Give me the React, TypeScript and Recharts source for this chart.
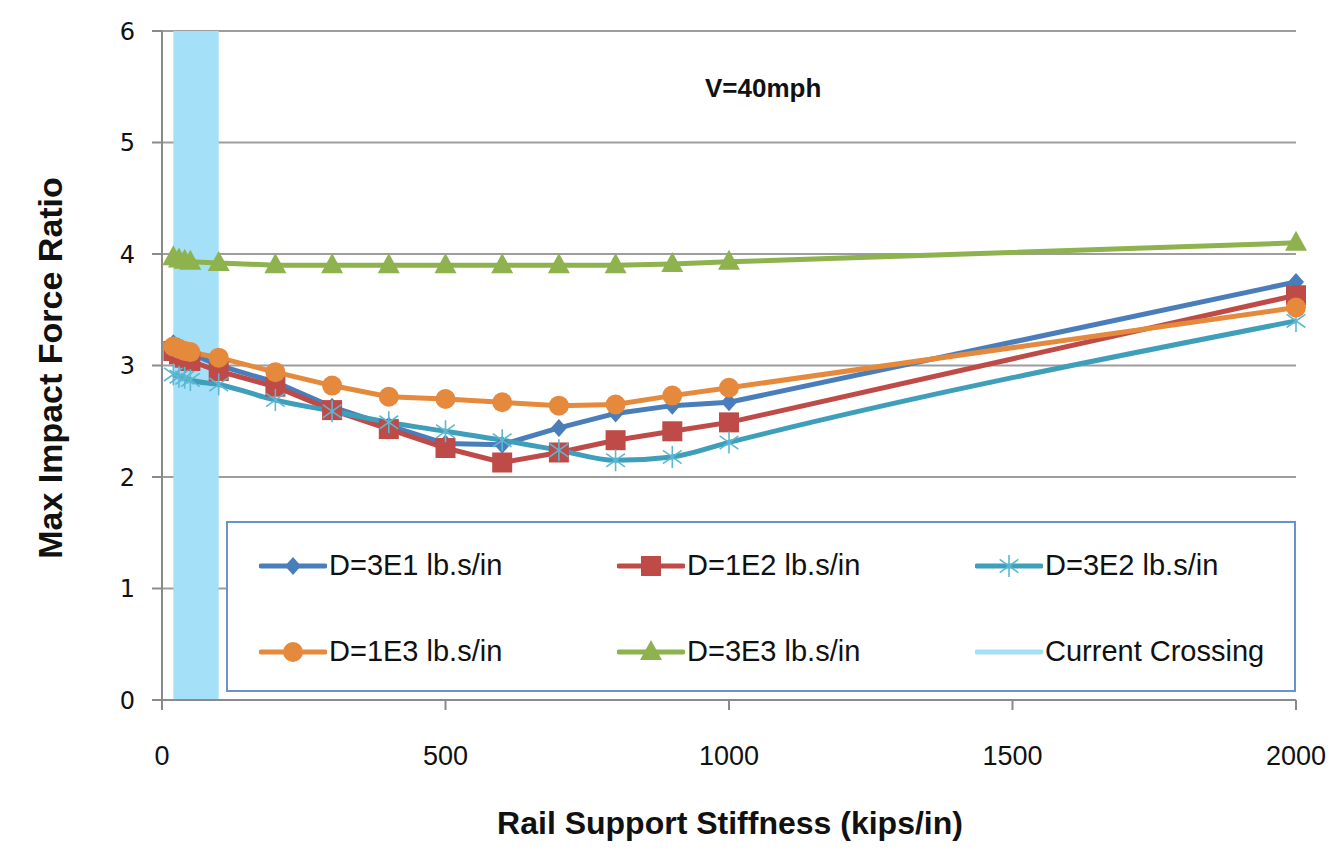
import React from "react";
import {
  LineChart,
  Line,
  XAxis,
  YAxis,
  CartesianGrid,
  ReferenceArea,
} from "recharts";

const stiffness = [20, 30, 40, 50, 100, 200, 300, 400, 500, 600, 700, 800, 900, 1000, 2000];

const d3e1 = [3.2, 3.17, 3.14, 3.11, 3.0, 2.85, 2.63, 2.46, 2.3, 2.29, 2.44, 2.57, 2.64, 2.67, 3.75];
const d1e2 = [3.13, 3.1, 3.07, 3.04, 2.95, 2.81, 2.6, 2.43, 2.26, 2.13, 2.22, 2.33, 2.41, 2.49, 3.63];
const d3e2 = [2.92, 2.9, 2.89, 2.87, 2.83, 2.69, 2.59, 2.49, 2.41, 2.33, 2.24, 2.15, 2.18, 2.31, 3.4];
const d1e3 = [3.17, 3.15, 3.13, 3.12, 3.07, 2.94, 2.82, 2.72, 2.7, 2.67, 2.64, 2.65, 2.73, 2.8, 3.52];
const d3e3 = [3.97, 3.95, 3.94, 3.93, 3.92, 3.9, 3.9, 3.9, 3.9, 3.9, 3.9, 3.9, 3.91, 3.93, 4.1];

// current crossing band (kips/in)
const crossing = [20, 100];

const xTicks = [0, 500, 1000, 1500, 2000];
const yTicks = [0, 1, 2, 3, 4, 5, 6];

const series = [
  { key: "d3e1", name: "D=3E1 lb.s/in", values: d3e1, color: "#4a7ebb", marker: "diamond" },
  { key: "d1e2", name: "D=1E2 lb.s/in", values: d1e2, color: "#be4b48", marker: "square" },
  { key: "d3e2", name: "D=3E2 lb.s/in", values: d3e2, color: "#3f9fba", marker: "star" },
  { key: "d1e3", name: "D=1E3 lb.s/in", values: d1e3, color: "#e5893c", marker: "circle" },
  { key: "d3e3", name: "D=3E3 lb.s/in", values: d3e3, color: "#8db24e", marker: "triangle" },
];

const data = stiffness.map((x, i) => {
  const row: any = { x };
  series.forEach((s) => (row[s.key] = s.values[i]));
  return row;
});

const FONT = "'Liberation Sans Narrow', 'Liberation Sans', Arial, sans-serif";
const BAND = "#a5e0f9";

function Marker({ cx, cy, type, color }: any) {
  if (cx == null || cy == null) return null;
  if (type === "diamond")
    return <path d={`M${cx},${cy - 9} L${cx + 8},${cy} L${cx},${cy + 9} L${cx - 8},${cy} Z`} fill={color} />;
  if (type === "square") return <rect x={cx - 10} y={cy - 10} width={20} height={20} fill={color} />;
  if (type === "circle") return <circle cx={cx} cy={cy} r={10} fill={color} />;
  if (type === "triangle")
    return <path d={`M${cx},${cy - 12} L${cx + 11},${cy + 8} L${cx - 11},${cy + 8} Z`} fill={color} />;
  // star / asterisk
  const r = 11;
  return (
    <g stroke="#5cb8d2" strokeWidth={1.6}>
      <line x1={cx} y1={cy - r} x2={cx} y2={cy + r} />
      <line x1={cx - r * 0.85} y1={cy - r * 0.6} x2={cx + r * 0.85} y2={cy + r * 0.6} />
      <line x1={cx - r * 0.85} y1={cy + r * 0.6} x2={cx + r * 0.85} y2={cy - r * 0.6} />
    </g>
  );
}

function LegendIcon({ color, marker }: any) {
  return (
    <svg width={68} height={24} style={{ display: "block" }}>
      <line x1={2} y1={12} x2={66} y2={12} stroke={color} strokeWidth={5} strokeLinecap="round" />
      {marker ? <Marker cx={34} cy={12} type={marker} color={color} /> : null}
    </svg>
  );
}

export default function App() {
  const legendItems = [
    ...series.map((s) => ({ name: s.name, color: s.color, marker: s.marker as any })),
    { name: "Current Crossing", color: BAND, marker: null },
  ];
  return (
    <div style={{ position: "absolute", left: 0, top: 0, width: 1339, height: 867, background: "#fff", fontFamily: FONT }}>
      <LineChart width={1339} height={867} data={data} margin={{ top: 31, right: 43, bottom: 87, left: 0 }}>
        <ReferenceArea x1={crossing[0]} x2={crossing[1]} y1={0} y2={6} fill={BAND} fillOpacity={1} stroke="none" />
        <CartesianGrid vertical={false} stroke="#9d9d9d" strokeWidth={2} />
        <XAxis
          type="number"
          dataKey="x"
          domain={[0, 2000]}
          ticks={xTicks}
          height={80}
          tickSize={10}
          tickMargin={36}
          stroke="#8a8a8a"
          strokeWidth={2}
          tick={{ fill: "#111", fontSize: 27, fontFamily: FONT }}
        />
        <YAxis
          type="number"
          domain={[0, 6]}
          ticks={yTicks}
          width={162}
          tickSize={10}
          tickMargin={17}
          stroke="#8a8a8a"
          strokeWidth={2}
          tick={{ fill: "#111", fontSize: 24, fontFamily: "'DejaVu Sans', sans-serif" }}
        />
        {series.map((s) => (
          <Line
            key={s.key}
            dataKey={s.key}
            name={s.name}
            type={s.key === "d3e2" ? "monotone" : "linear"}
            stroke={s.color}
            strokeWidth={5}
            isAnimationActive={false}
            dot={(p: any) => <Marker key={`${s.key}-${p.index}`} cx={p.cx} cy={p.cy} type={s.marker} color={s.color} />}
            activeDot={false}
          />
        ))}
      </LineChart>

      <div style={{ position: "absolute", left: 705, top: 73, fontSize: 26, fontWeight: 700, color: "#111" }}>V=40mph</div>

      <div
        style={{
          position: "absolute",
          left: 330,
          top: 805,
          width: 800,
          textAlign: "center",
          fontSize: 32,
          fontWeight: 700,
          color: "#111",
        }}
      >
        Rail Support Stiffness (kips/in)
      </div>

      <div
        style={{
          position: "absolute",
          left: 50,
          top: 368,
          transform: "translate(-50%, -50%) rotate(-90deg)",
          whiteSpace: "nowrap",
          fontSize: 34,
          fontWeight: 700,
          color: "#111",
        }}
      >
        Max Impact Force Ratio
      </div>

      <div
        style={{
          position: "absolute",
          left: 226,
          top: 521,
          width: 1070,
          height: 171,
          border: "2px solid #6a92cc",
          background: "#fff",
          boxSizing: "border-box",
        }}
      >
        {legendItems.map((it, i) => {
          const col = i % 3;
          const row = Math.floor(i / 3);
          return (
            <div
              key={it.name}
              style={{
                position: "absolute",
                left: 31 + col * 358,
                top: 26 + row * 86,
                display: "flex",
                alignItems: "center",
                fontSize: 29,
                color: "#111",
                whiteSpace: "nowrap",
              }}
            >
              <LegendIcon color={it.color} marker={it.marker} />
              <span style={{ marginLeft: 2 }}>{it.name}</span>
            </div>
          );
        })}
      </div>
    </div>
  );
}
